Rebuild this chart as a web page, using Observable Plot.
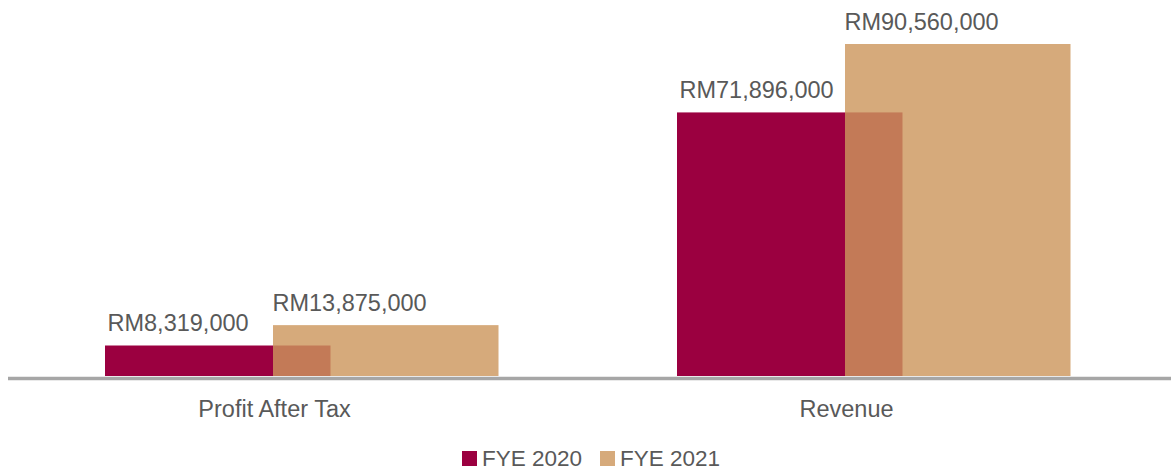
<!DOCTYPE html>
<html>
<head>
<meta charset="utf-8">
<script src="https://cdn.jsdelivr.net/npm/d3@7"></script>
<script src="https://cdn.jsdelivr.net/npm/@observablehq/plot@0.6"></script>
<style>
  html, body { margin: 0; padding: 0; background: #fff; }
  body { width: 1171px; font-family: "Liberation Sans", Arial, Helvetica, sans-serif; }
  #legend { margin-top: 6px; padding-left: 11px; text-align: center; font-size: 22.5px; line-height: 26px; color: #595959; }
  .item { display: inline-block; white-space: nowrap; }
  .item + .item { margin-left: 18px; }
  .sw { display: inline-block; width: 15px; height: 15px; vertical-align: baseline; margin-right: 5px; }
</style>
</head>
<body>
<div id="chart"></div>
<div id="legend"></div>
<script>
const categories = ["Profit After Tax", "Revenue"];
const series = ["FYE 2020", "FYE 2021"];
const fye2020 = [8319000, 71896000];
const fye2021 = [13875000, 90560000];
const colors = ["#9b0040", "#cc965d"];
const opacities = [1, 0.81];

const rows2020 = categories.map((c, i) => ({category: c, series: series[0], value: fye2020[i]}));
const rows2021 = categories.map((c, i) => ({category: c, series: series[1], value: fye2021[i]}));
const fmt = v => "RM" + d3.format(",")(v);
const textColor = "#595959";

const plot = Plot.plot({
  width: 1171,
  height: 440,
  marginLeft: 8,
  marginRight: 0,
  marginTop: 0,
  marginBottom: 64,
  style: {fontFamily: "'Liberation Sans', Arial, Helvetica, sans-serif", color: textColor, background: "white", overflow: "visible"},
  x: {type: "band", domain: categories, range: [-12.75, 1132.25], padding: 0},
  y: {domain: [0, 90560000], range: [376, 44], axis: null},
  color: {domain: series, range: colors},
  marks: [
    Plot.barY(rows2020, {x: "category", y: "value", fill: "series", insetLeft: 117, insetRight: 229.5}),
    Plot.barY(rows2021, {x: "category", y: "value", fill: "series", fillOpacity: opacities[1], insetLeft: 285, insetRight: 61.5}),
    Plot.ruleY([0], {stroke: "#a6a6a6", strokeWidth: 3.5, dy: 2}),
    Plot.text(rows2020, {x: "category", y: "value", text: d => fmt(d.value), textAnchor: "start", lineAnchor: "bottom", dx: -167, dy: -15, fontSize: 23.5, fill: textColor}),
    Plot.text(rows2021, {x: "category", y: "value", text: d => fmt(d.value), textAnchor: "start", lineAnchor: "bottom", dx: -2, dy: -15, fontSize: 23.5, fill: textColor}),
    Plot.axisX({tickSize: 0, tickPadding: 24, fontSize: 23.5, label: null, fill: textColor})
  ]
});
document.getElementById("chart").appendChild(plot);

const legend = document.getElementById("legend");
series.forEach((s, i) => {
  const item = document.createElement("span");
  item.className = "item";
  const sw = document.createElement("span");
  sw.className = "sw";
  sw.style.background = colors[i];
  sw.style.opacity = opacities[i];
  item.appendChild(sw);
  item.appendChild(document.createTextNode(s));
  legend.appendChild(item);
});
</script>
</body>
</html>
